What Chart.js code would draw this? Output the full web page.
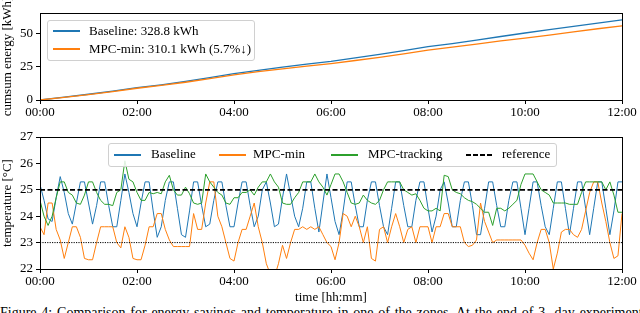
<!DOCTYPE html>
<html>
<head>
<meta charset="utf-8">
<script src="https://cdn.jsdelivr.net/npm/chart.js@4.4.1/dist/chart.umd.min.js"></script>
<style>
  body { margin: 0; width: 640px; height: 313px; overflow: hidden; background: #fff; position: relative; font-family: "Liberation Serif", serif; }
  .wrap { position: absolute; left: 0; width: 640px; }
  #topWrap { top: 0; height: 120px; }
  #bottomWrap { top: 125px; height: 180px; }
  .legend { position: absolute; background: rgba(255,255,255,0.85); border: 1px solid #d0d0d0; border-radius: 3px; font-size: 13px; color: #000; z-index: 2; }
  .item { position: absolute; white-space: nowrap; line-height: 14px; }
  .swatch { position: absolute; width: 27px; }
  .caption { position: absolute; left: 0; top: 305px; width: 700px; font-size: 14px; line-height: 16px; word-spacing: 1.3px; white-space: nowrap; color: #000; }
</style>
</head>
<body>
<div class="wrap" id="topWrap"><canvas id="energyChart"></canvas></div>
<div class="wrap" id="bottomWrap"><canvas id="tempChart"></canvas></div>

<div class="legend" style="left:47px; top:20px; width:206px; height:39px;">
  <div class="swatch" style="left:5px; top:9px; height:1.5px; background:#1f77b4;"></div>
  <div class="item" style="left:41px; top:3px;">Baseline: 328.8 kWh</div>
  <div class="swatch" style="left:5px; top:27px; height:1.5px; background:#ff7f0e;"></div>
  <div class="item" style="left:41px; top:21px;">MPC-min: 310.1 kWh (5.7%↓)</div>
</div>

<div class="legend" style="left:108px; top:143px; width:447px; height:22px;">
  <div class="swatch" style="left:5px; top:10px; height:1.5px; background:#1f77b4;"></div>
  <div class="item" style="left:42px; top:3px;">Baseline</div>
  <div class="swatch" style="left:110px; top:10px; height:1.5px; background:#ff7f0e;"></div>
  <div class="item" style="left:144px; top:3px;">MPC-min</div>
  <div class="swatch" style="left:222px; top:10px; height:1.5px; background:#2ca02c;"></div>
  <div class="item" style="left:259px; top:3px;">MPC-tracking</div>
  <div class="swatch" style="left:357px; top:10px; height:2px; background:repeating-linear-gradient(90deg,#000 0 5px,transparent 5px 7px);"></div>
  <div class="item" style="left:393px; top:3px;">reference</div>
</div>

<div class="caption">Figure 4: Comparison for energy savings and temperature in one of the zones. At the end of 3- day experiment</div>

<script>
// cumulative energy, every 30 min (kWh)
const energyHours = [0, 0.5, 1, 1.5, 2, 2.5, 3, 3.5, 4, 4.5, 5, 5.5, 6, 6.5, 7, 7.5, 8, 8.5, 9, 9.5, 10, 10.5, 11, 11.5, 12];
const energyBaseline = [0, 2.1, 4.3, 6.6, 9.2, 11.4, 14.0, 16.8, 19.8, 22.2, 24.6, 26.9, 29.0, 31.6, 34.2, 37.0, 40.0, 42.3, 44.9, 47.6, 50.2, 52.8, 55.1, 57.6, 60.1];
const energyMpcMin = [0, 2.0, 4.1, 6.3, 8.8, 10.9, 13.3, 16.0, 18.9, 21.2, 23.3, 25.4, 27.3, 29.6, 32.0, 34.6, 37.3, 39.6, 41.9, 44.3, 46.3, 48.6, 51.1, 53.4, 55.6];

// zone temperature, every 5 min (°C)
const tempBaseline = [
  25.2, 24.6, 23.9, 23.8, 24.7, 25.5, 24.9, 24.1, 23.7, 24.5, 25.3, 25.3,
  24.5, 23.7, 24.4, 25.3, 25.3, 24.4, 23.6, 23.6, 24.6, 25.6, 24.9, 24.1,
  23.6, 24.5, 25.3, 25.3, 24.2, 23.2, 23.6, 24.6, 25.3, 25.3, 24.3, 23.3,
  23.2, 24.2, 25.3, 25.3, 24.4, 23.6, 23.7, 24.6, 25.3, 25.3, 24.4, 23.6,
  23.6, 24.5, 25.3, 25.3, 24.4, 23.6, 24.0, 25.0, 25.3, 24.5, 23.6, 23.7,
  24.7, 25.6, 24.8, 24.0, 23.6, 24.3, 25.3, 25.3, 24.3, 23.4, 24.5, 25.6,
  24.7, 23.8, 23.3, 24.2, 25.3, 25.3, 24.4, 23.6, 23.6, 24.6, 25.3, 25.3,
  24.4, 23.6, 23.3, 24.3, 25.3, 25.3, 24.4, 23.6, 23.6, 24.6, 25.3, 25.3,
  24.3, 23.4, 24.0, 25.0, 25.3, 24.5, 23.6, 23.6, 24.6, 25.3, 25.3, 24.4,
  23.3, 23.3, 24.3, 25.3, 25.3, 24.4, 23.6, 23.6, 24.6, 25.3, 25.3, 24.3,
  23.3, 24.3, 25.3, 25.3, 24.4, 23.6, 23.3, 24.3, 25.3, 25.3, 24.3, 23.3,
  24.3, 25.3, 25.3, 24.3, 23.3, 24.3, 25.3, 25.3, 24.3, 23.3, 24.2, 25.3,
  25.3
];
const tempMpcMin = [
  23.6, 23.3, 24.5, 24.5, 23.5, 23.1, 22.4, 23.0, 23.6, 23.6, 23.2, 22.4,
  22.35, 22.35, 23.0, 23.6, 23.6, 23.6, 23.6, 23.0, 22.8, 23.6, 23.2, 22.4,
  22.35, 22.35, 22.9, 23.6, 23.6, 24.1, 24.1, 23.5, 23.1, 22.85, 22.85, 22.85,
  22.85, 22.85, 24.1, 23.5, 23.5, 24.5, 25.3, 25.3, 24.0, 23.6, 23.0, 22.4,
  22.3, 23.0, 23.5, 23.5, 24.0, 24.5, 23.6, 23.0, 22.2, 21.8, 21.7, 22.2,
  22.9, 22.4, 23.0, 23.5, 23.5, 23.6, 23.5, 23.6, 23.5, 23.6, 23.3, 23.0,
  22.85, 22.35, 23.0, 24.1, 24.0, 23.6, 24.0, 23.6, 23.0, 23.6, 22.4, 22.3,
  23.5, 23.6, 23.0, 23.6, 24.1, 23.6, 23.0, 23.5, 23.6, 23.0, 23.6, 23.6,
  23.6, 23.0, 23.6, 23.6, 24.1, 24.1, 23.6, 23.6, 23.6, 23.0, 22.85, 22.9,
  23.1, 24.5, 23.8, 23.4, 23.0, 23.1, 23.1, 23.1, 23.1, 23.1, 23.1, 23.1,
  22.9, 22.6, 22.35, 23.0, 23.5, 23.5, 23.0, 22.0, 22.6, 23.4, 23.5, 23.5,
  23.3, 23.2, 23.5, 24.2, 24.9, 25.3, 25.3, 24.5, 23.8, 23.0, 22.4, 22.5,
  24.1
];
const tempMpcTracking = [
  24.6, 24.0, 23.65, 24.0, 24.7, 25.3, 25.3, 24.9, 24.8, 24.5, 24.45, 24.8,
  25.3, 25.3, 24.9, 24.6, 24.45, 24.45, 24.4, 24.9, 25.0, 26.1, 25.4, 25.3,
  24.9, 24.6, 24.6, 24.9, 24.85, 24.9, 24.85, 25.3, 25.55, 25.0, 24.8, 24.8,
  25.1, 24.85, 24.5, 24.45, 24.5, 25.6, 25.3, 25.1, 24.9, 24.8, 24.5, 24.45,
  24.7, 24.7, 24.9, 24.9, 25.0, 24.8, 25.1, 25.3, 25.3, 25.6, 25.3, 25.1,
  24.5, 24.45, 24.45, 24.7, 24.9, 25.3, 25.3, 25.3, 25.6, 25.3, 25.1, 24.8,
  25.2, 25.6, 25.6, 25.3, 24.9, 24.5, 24.45, 24.5, 24.8, 24.6, 24.5, 24.45,
  24.6, 25.0, 25.3, 25.3, 25.3, 25.3, 25.0, 24.9, 24.8, 24.85, 24.6, 24.3,
  24.2, 24.2, 24.3, 24.2, 25.55, 25.5, 25.0, 24.9, 24.85, 24.7, 24.6, 24.55,
  24.45, 24.3, 24.15, 24.15, 23.65, 24.3, 24.3, 24.2, 24.3, 24.45, 24.6, 25.2,
  25.6, 25.6, 25.6, 25.3, 25.0, 24.9, 24.8, 24.5, 24.5, 24.5, 24.5, 24.45,
  24.45, 24.45, 24.9, 25.3, 25.3, 25.3, 25.3, 25.3, 25.0, 25.3, 24.8, 24.15,
  24.15
];
const upperRef = 25;
const lowerRef = 23;
const xTicksMinutes = [0, 120, 240, 360, 480, 600, 720];

Chart.defaults.font.family = '"Liberation Serif", serif';
Chart.defaults.font.size = 13;
Chart.defaults.color = '#000';

const toPoints = (xs, ys) => ys.map((y, i) => ({ x: xs[i], y: y }));
const tempMinutes = tempBaseline.map((_, i) => i * 5);
const hhmm = (m) => String(Math.floor(m / 60)).padStart(2, '0') + ':' + String(m % 60).padStart(2, '0');

// draws the box round the plot area, on top of the lines
const frame = {
  id: 'frame',
  afterDraw(chart) {
    const { ctx, chartArea: a } = chart;
    ctx.save();
    ctx.strokeStyle = '#000';
    ctx.lineWidth = 1;
    ctx.strokeRect(Math.round(a.left) + 0.5, Math.round(a.top) + 0.5, Math.round(a.right - a.left), Math.round(a.bottom - a.top));
    ctx.restore();
  }
};

function xAxis(height, withTitle) {
  return {
    type: 'linear',
    min: 0,
    max: 720,
    afterBuildTicks: (s) => { s.ticks = xTicksMinutes.map(v => ({ value: v })); },
    afterFit: (s) => { s.height = height; },
    ticks: { callback: (v) => hhmm(v), padding: 1, maxRotation: 0, autoSkip: false },
    grid: { drawOnChartArea: false, tickLength: 4, color: '#000' },
    border: { display: false },
    title: { display: withTitle, text: 'time [hh:mm]', padding: { top: 0, bottom: 0 } }
  };
}

function yAxis(min, max, step, title) {
  return {
    min: min,
    max: max,
    afterBuildTicks: (s) => { s.ticks = s.ticks.filter(t => Math.abs(t.value / step - Math.round(t.value / step)) < 1e-6); },
    afterFit: (s) => { s.width = 40; },
    ticks: { stepSize: step, padding: 3 },
    grid: { drawOnChartArea: false, tickLength: 4, color: '#000' },
    border: { display: false },
    title: { display: true, text: title, padding: { top: 0, bottom: 2 } }
  };
}

new Chart(document.getElementById('energyChart'), {
  type: 'line',
  data: {
    datasets: [
      { label: 'MPC-min', data: toPoints(energyHours.map(h => h * 60), energyMpcMin), borderColor: '#ff7f0e', borderWidth: 1.3 },
      { label: 'Baseline', data: toPoints(energyHours.map(h => h * 60), energyBaseline), borderColor: '#1f77b4', borderWidth: 1.3 }
    ]
  },
  options: {
    responsive: true,
    maintainAspectRatio: false,
    animation: false,
    elements: { point: { radius: 0 }, line: { tension: 0 } },
    layout: { padding: { left: 0, right: 18, top: 13, bottom: 0 } },
    plugins: { legend: { display: false }, tooltip: { enabled: false } },
    scales: {
      x: xAxis(20, false),
      y: yAxis(0, 65.2, 25, 'cumsum energy [kWh]')
    }
  },
  plugins: [frame]
});

new Chart(document.getElementById('tempChart'), {
  type: 'line',
  data: {
    datasets: [
      { label: 'reference', data: [{ x: 0, y: upperRef }, { x: 720, y: upperRef }], borderColor: '#000', borderWidth: 1.8, borderDash: [5, 2.5] },
      { label: 'lower', data: [{ x: 0, y: lowerRef }, { x: 720, y: lowerRef }], borderColor: '#000', borderWidth: 1, borderDash: [1.2, 1.2] },
      { label: 'MPC-tracking', data: toPoints(tempMinutes, tempMpcTracking), borderColor: '#2ca02c', borderWidth: 1 },
      { label: 'MPC-min', data: toPoints(tempMinutes, tempMpcMin), borderColor: '#ff7f0e', borderWidth: 1 },
      { label: 'Baseline', data: toPoints(tempMinutes, tempBaseline), borderColor: '#1f77b4', borderWidth: 1 }
    ]
  },
  options: {
    responsive: true,
    maintainAspectRatio: false,
    animation: false,
    elements: { point: { radius: 0 }, line: { tension: 0 } },
    layout: { padding: { left: 0, right: 18, top: 12, bottom: 0 } },
    plugins: { legend: { display: false }, tooltip: { enabled: false } },
    scales: {
      x: xAxis(36, true),
      y: yAxis(22, 27, 1, 'temperature [°C]')
    }
  },
  plugins: [frame]
});
</script>
</body>
</html>
